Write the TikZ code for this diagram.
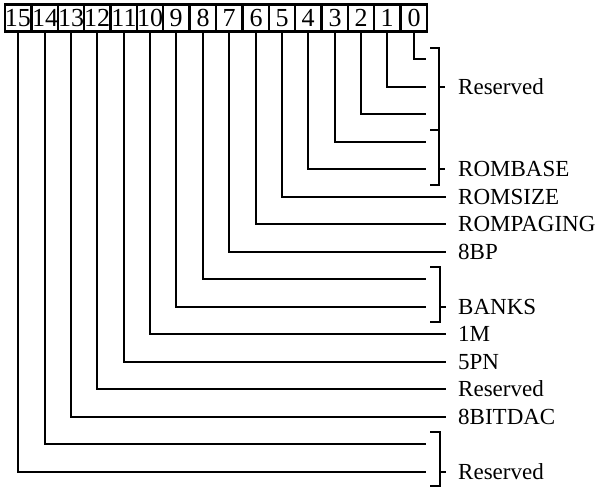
\documentclass[tikz,border=0pt]{standalone}
\usepackage{fontspec}
\setmainfont{Liberation Serif}
\begin{document}
\begin{tikzpicture}[x=1pt,y=-1pt,
  bitbox/.style={draw,line width=2.4pt,minimum width=26.375pt,minimum height=27pt,inner sep=0pt,font=\fontsize{26}{26}\selectfont},
  lab/.style={anchor=west,inner xsep=0pt,inner ysep=0pt,font=\fontsize{23}{23}\selectfont},
  wire/.style={line width=2.6pt},
]
\useasboundingbox (0,0) rectangle (602,488);
% register boxes
\foreach \i in {0,...,15}{
  \pgfmathsetmacro{\bx}{round(427-(\i+0.5)*26.375)}
  \node[bitbox] (b\i) at (\bx,18) {\i};
}
% bracketed bits: line ends
\foreach \i in {0,1,2,3,4,8,9,14,15}{
  \pgfmathsetmacro{\yy}{round(59+27.5*\i)}
  \coordinate (e\i) at (426,\yy);
  \draw[wire] (b\i.south) |- (e\i);
}
% single labels
\foreach \i/\t in {5/ROMSIZE,6/ROMPAGING,7/8BP,10/1M,11/5PN,12/Reserved,13/8BITDAC}{
  \pgfmathsetmacro{\yy}{round(59+27.5*\i)}
  \node[lab] (l\i) at (458,\yy) {\t};
  \draw[wire] (b\i.south) |- ([xshift=-12pt]l\i.west);
}
% bracket labels
\node[lab] (ra) at (458,87) {Reserved};
\node[lab] (rb) at (458,169) {ROMBASE};
\node[lab] (bk) at (458,307) {BANKS};
\node[lab] (rc) at (458,472) {Reserved};
% brackets
\coordinate (t1) at (430,48);
\coordinate (t2) at (430,185);
\coordinate (t3) at (430,130);
\draw[wire] (t1) -- ++(9,0) |- (t2);
\draw[wire] (t3) -- ++(9,0);
\draw[wire] (439,87) -- ([xshift=-13pt]ra.west);
\draw[wire] (439,169) -- ([xshift=-13pt]rb.west);
\coordinate (k1) at (430,267);
\coordinate (k2) at (430,322);
\draw[wire] (k1) -- ++(10,0) |- (k2);
\draw[wire] (440,307) -- ([xshift=-12pt]bk.west);
\coordinate (m1) at (430,432);
\coordinate (m2) at (430,486);
\draw[wire] (m1) -- ++(10,0) |- (m2);
\draw[wire] (440,472) -- ([xshift=-12pt]rc.west);
\end{tikzpicture}
\end{document}
